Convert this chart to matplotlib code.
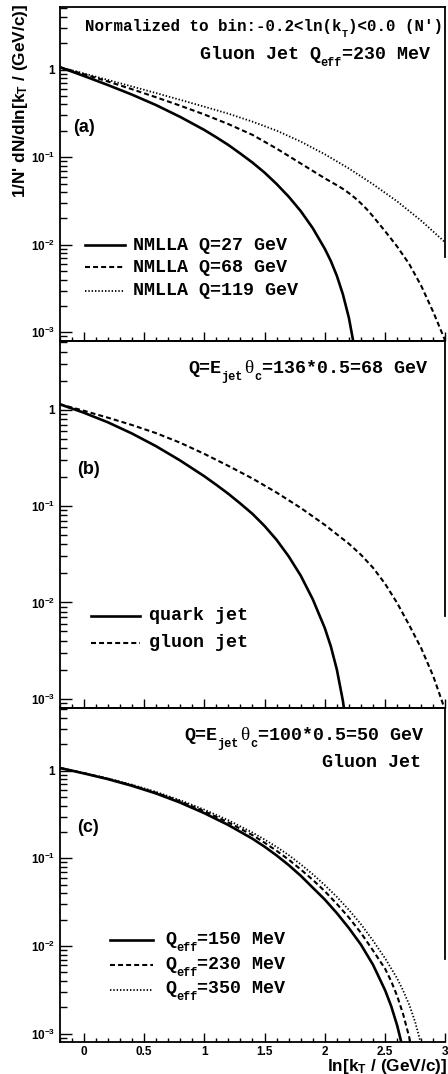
import matplotlib
matplotlib.use("Agg")
import matplotlib.pyplot as plt
import numpy as np
from matplotlib.lines import Line2D
from matplotlib.ticker import FixedLocator, FixedFormatter, LogLocator, MultipleLocator, NullFormatter

plt.rcParams["mathtext.fontset"] = "custom"
plt.rcParams["mathtext.rm"] = "Liberation Sans:bold"
plt.rcParams["mathtext.it"] = "Liberation Sans:bold"
plt.rcParams["mathtext.bf"] = "Liberation Sans:bold"
plt.rcParams["font.family"] = ["Liberation Sans", "DejaVu Sans"]
plt.rcParams["font.weight"] = "bold"
plt.rcParams["lines.scale_dashes"] = False

# ---------------- data ----------------
# panel (a): gluon jet, Q_eff = 230 MeV, three Q values
a_q27_x = [-0.2, 0.0, 0.2, 0.4, 0.6, 0.8, 1.0, 1.1, 1.2, 1.3, 1.4, 1.5, 1.6, 1.7, 1.8, 1.9, 2.0,
           2.05, 2.1, 2.15, 2.2, 2.25]
a_q27_y = [1.069, 0.849, 0.668, 0.519, 0.394, 0.289, 0.205, 0.169, 0.138, 0.110, 0.0869, 0.0668,
           0.0495, 0.0355, 0.0243, 0.0155, 0.0090, 0.00653, 0.00442, 0.00272, 0.00146, 0.00062]
a_q68_x = [-0.2, 0.0, 0.2, 0.4, 0.6, 0.8, 1.0, 1.2, 1.4, 1.6, 1.8, 2.0, 2.1, 2.15, 2.2, 2.25, 2.3,
           2.35, 2.4, 2.5, 2.6, 2.7, 2.8, 2.9, 3.0]
a_q68_y = [1.069, 0.889, 0.733, 0.598, 0.484, 0.388, 0.308, 0.239, 0.180, 0.1256, 0.0849, 0.0574,
           0.0479, 0.0435, 0.0389, 0.0343, 0.0297, 0.0253, 0.0211, 0.0143, 0.00955, 0.00603,
           0.00339, 0.00170, 0.000794]
a_q119_x = [-0.2, 0.0, 0.2, 0.4, 0.6, 0.8, 1.0, 1.2, 1.4, 1.6, 1.8, 2.0, 2.2, 2.4, 2.6, 2.8, 3.0]
a_q119_y = [1.07, 0.906, 0.764, 0.643, 0.540, 0.452, 0.378, 0.314, 0.255, 0.201, 0.151, 0.108,
            0.0743, 0.0491, 0.0313, 0.0188, 0.0106]

# panel (b): quark vs gluon jet, Q = 68 GeV
b_quark_x = [-0.2, 0.0, 0.2, 0.4, 0.6, 0.8, 1.0, 1.1, 1.2, 1.3, 1.4, 1.5, 1.6, 1.7, 1.8, 1.9, 2.0,
             2.05, 2.1, 2.15, 2.18]
b_quark_y = [1.140, 0.931, 0.740, 0.566, 0.418, 0.297, 0.204, 0.166, 0.134, 0.106, 0.0830, 0.0622,
             0.0446, 0.0301, 0.0190, 0.0108, 0.00542, 0.00350, 0.00201, 0.000953, 0.000512]
b_gluon_x = [-0.2, 0.0, 0.2, 0.4, 0.6, 0.8, 1.0, 1.2, 1.4, 1.6, 1.8, 2.0, 2.2, 2.3, 2.4, 2.5, 2.6,
             2.7, 2.8, 2.9, 3.0]
b_gluon_y = [1.140, 0.975, 0.826, 0.693, 0.571, 0.454, 0.348, 0.261, 0.193, 0.138, 0.0957, 0.0638,
             0.0406, 0.0312, 0.0229, 0.0156, 0.00986, 0.00581, 0.00334, 0.00171, 0.000748]

# panel (c): gluon jet, Q = 50 GeV, three Q_eff values
c_150_x = [-0.2, 0.0, 0.2, 0.4, 0.6, 0.8, 1.0, 1.2, 1.4, 1.5, 1.6, 1.7, 1.8, 1.9, 2.0, 2.1, 2.2,
           2.3, 2.4, 2.5, 2.55, 2.6, 2.65]
c_150_y = [1.076, 0.933, 0.802, 0.673, 0.550, 0.433, 0.328, 0.240, 0.1675, 0.136, 0.108, 0.0839,
           0.0634, 0.0463, 0.0339, 0.0237, 0.0160, 0.01035, 0.00610, 0.00313, 0.00207, 0.00124,
           0.000653]
c_230_x = [-0.2, 0.0, 0.2, 0.4, 0.6, 0.8, 1.0, 1.2, 1.4, 1.5, 1.6, 1.7, 1.8, 1.9, 2.0, 2.1, 2.2,
           2.3, 2.4, 2.5, 2.55, 2.6, 2.65, 2.7, 2.73]
c_230_y = [1.076, 0.938, 0.809, 0.682, 0.561, 0.447, 0.345, 0.257, 0.184, 0.151, 0.122, 0.0968,
           0.0748, 0.0569, 0.0422, 0.0302, 0.0211, 0.0141, 0.00887, 0.00550, 0.00398, 0.00269,
           0.00166, 0.000912, 0.000562]
c_350_x = [-0.2, 0.0, 0.2, 0.4, 0.6, 0.8, 1.0, 1.2, 1.4, 1.5, 1.6, 1.7, 1.8, 1.9, 2.0, 2.1, 2.2,
           2.3, 2.4, 2.5, 2.6, 2.65, 2.7, 2.75, 2.8, 2.83]
c_350_y = [1.076, 0.942, 0.817, 0.692, 0.573, 0.460, 0.360, 0.272, 0.197, 0.164, 0.135, 0.109,
           0.0855, 0.0658, 0.0495, 0.0363, 0.0258, 0.0177, 0.0115, 0.00724, 0.00427, 0.00309,
           0.00214, 0.00135, 0.000741, 0.000447]

ytick_vals = [1e-3, 1e-2, 1e-1, 1.0]
ytick_labels = ["$10^{-3}$", "$10^{-2}$", "$10^{-1}$", "1"]
xtick_vals = [0.0, 0.5, 1.0, 1.5, 2.0, 2.5, 3.0]
xtick_labels = ["0", "0.5", "1", "1.5", "2", "2.5", "3"]

legend_a = ["NMLLA Q=27 GeV", "NMLLA Q=68 GeV", "NMLLA Q=119 GeV"]
legend_b = ["quark jet", "gluon jet"]
legend_c_vals = ["=150 MeV", "=230 MeV", "=350 MeV"]

# ---------------- figure ----------------
W, H = 448, 1074
DPI = 100
PT = DPI / 72.0
fig = plt.figure(figsize=(W / DPI, H / DPI), dpi=DPI)


def fx(px):
    return px / W


def fy(py):
    return 1 - py / H


YLIM = (10 ** -3.095, 10 ** 0.715)
XLIM = (-0.2, 3.0)
LEFT, RIGHT = 59.5, 445.4

solid = dict(color="black", lw=1.9, ls="-")
dashed = dict(color="black", lw=1.5, ls=(0, (3.6, 2.2)))
dotted = dict(color="black", lw=1.3, ls=(0, (1.0, 1.4)))


def make_axes(top, bottom, show_xlabels):
    ax = fig.add_axes([fx(LEFT), fy(bottom), (RIGHT - LEFT) / W, (bottom - top) / H])
    ax.set_yscale("log")
    ax.set_xlim(*XLIM)
    ax.set_ylim(*YLIM)
    ax.yaxis.set_major_locator(FixedLocator(ytick_vals))
    ax.yaxis.set_major_formatter(FixedFormatter(ytick_labels))
    ax.yaxis.set_minor_locator(LogLocator(base=10, subs=np.arange(2, 10)))
    ax.yaxis.set_minor_formatter(NullFormatter())
    ax.xaxis.set_major_locator(FixedLocator(xtick_vals))
    ax.xaxis.set_major_formatter(FixedFormatter(xtick_labels))
    ax.xaxis.set_minor_locator(MultipleLocator(0.1))
    ax.tick_params(axis="y", which="major", direction="in", length=8.5, width=1.0, pad=3,
                   labelsize=8.5, right=False)
    ax.tick_params(axis="y", which="minor", direction="in", length=4.8, width=1.0, right=False)
    ax.tick_params(axis="x", which="major", direction="in", length=6.3, width=1.0, pad=3,
                   labelsize=8.5, top=False, labelbottom=show_xlabels)
    ax.tick_params(axis="x", which="minor", direction="in", length=3.2, width=1.0, top=False)
    for s in ["left", "bottom", "top", "right"]:
        ax.spines[s].set_linewidth(1.3)
    ax.spines["right"].set_bounds(0.0072, YLIM[1])
    ax.patch.set_alpha(0)
    return ax


def mono(x, baseline, pieces, size, align="left"):
    cw = 0.6 * size * PT
    widths = []
    for t, k in pieces:
        if k == "n":
            widths.append(len(t) * cw)
        elif k == "s":
            widths.append(len(t) * cw * 0.65)
        else:
            widths.append(0.66 * size * PT)
    total = sum(widths)
    cur = x - total if align == "right" else x
    for (t, k), w in zip(pieces, widths):
        if k == "n":
            fig.text(fx(cur), fy(baseline), t, family="Liberation Mono", weight="bold",
                     fontsize=size, ha="left", va="baseline")
        elif k == "s":
            fig.text(fx(cur), fy(baseline + 0.36 * size * PT), t, family="Liberation Mono",
                     weight="bold", fontsize=size * 0.65, ha="left", va="baseline")
        else:
            fig.text(fx(cur + w / 2), fy(baseline), t, family="Liberation Serif",
                     weight="normal", fontsize=size * 1.05, ha="center", va="baseline")
        cur += w


def leg_line(x0, x1, y, style):
    fig.add_artist(Line2D([fx(x0), fx(x1)], [fy(y), fy(y)], transform=fig.transFigure, **style))


S = 13.2

# ---- panel (a)
ax_a = make_axes(7.0, 340.7, False)
ax_a.plot(a_q27_x, a_q27_y, **solid)
ax_a.plot(a_q68_x, a_q68_y, **dashed)
ax_a.plot(a_q119_x, a_q119_y, **dotted)
mono(443, 31.5, [("Normalized to bin:-0.2<ln(k", "n"), ("T", "s"), (")<0.0 (N')", "n")], 11.4, "right")
mono(430, 59, [("Gluon Jet Q", "n"), ("eff", "s"), ("=230 MeV", "n")], S, "right")
fig.text(fx(73), fy(127), "(a)", fontsize=13, weight="bold", ha="left", va="center")
for (ly, ty), lab, st in zip([(245, 250), (267, 272), (291, 295)], legend_a, [solid, dashed, dotted]):
    leg_line(85, 125, ly, st)
    mono(133, ty, [(lab, "n")], S)

# ---- panel (b)
ax_b = make_axes(340.7, 708.0, False)
ax_b.plot(b_quark_x, b_quark_y, **solid)
ax_b.plot(b_gluon_x, b_gluon_y, **dashed)
mono(427, 373, [("Q=E", "n"), ("jet", "s"), ("\u03b8", "g"), ("c", "s"), ("=136*0.5=68 GeV", "n")], S, "right")
fig.text(fx(77), fy(470), "(b)", fontsize=13, weight="bold", ha="left", va="center")
for (ly, ty), lab, st in zip([(616, 620), (643, 647)], legend_b, [solid, dashed]):
    leg_line(91, 140, ly, st)
    mono(149, ty, [(lab, "n")], S)

# ---- panel (c)
ax_c = make_axes(708.0, 1042.0, True)
ax_c.plot(c_150_x, c_150_y, **solid)
ax_c.plot(c_230_x, c_230_y, **dashed)
ax_c.plot(c_350_x, c_350_y, **dotted)
mono(423, 740, [("Q=E", "n"), ("jet", "s"), ("\u03b8", "g"), ("c", "s"), ("=100*0.5=50 GeV", "n")], S, "right")
mono(421, 767, [("Gluon Jet", "n")], S, "right")
fig.text(fx(77), fy(827), "(c)", fontsize=13, weight="bold", ha="left", va="center")
for (ly, ty), lab, st in zip([(940, 944), (965, 969), (990, 993)], legend_c_vals, [solid, dashed, dotted]):
    leg_line(110, 153, ly, st)
    mono(165, ty, [("Q", "n"), ("eff", "s"), (lab, "n")], S)

# ---- axis titles
fig.text(fx(21), fy(4), "1/N' dN/dln[k$_{T}$ / (GeV/c)]", rotation=90, fontsize=12.4,
         weight="bold", ha="center", va="top")
fig.text(fx(447), fy(1066), "ln[k$_{T}$ / (GeV/c)]", fontsize=12.4, weight="bold",
         ha="right", va="center")

fig.savefig("out.png", dpi=DPI)
